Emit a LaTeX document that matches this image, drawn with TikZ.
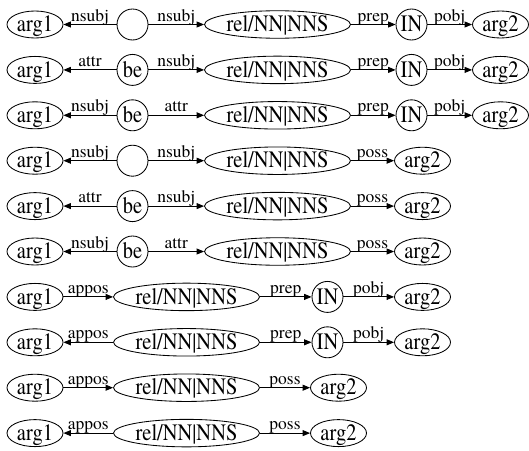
\documentclass[tikz,border=0pt]{standalone}
\usepackage{fontspec}
\setmainfont{texgyretermes-regular.otf}
\newfontfamily\tnr{texgyretermes-regular.otf}
\newfontfamily\tnrc{texgyretermes-regular.otf}[FakeStretch=0.87]
\usetikzlibrary{shapes.geometric,arrows.meta}
\newcommand\nodefnt{\tnrc\fontsize{23.5}{23.5}\selectfont}
\newcommand\lblfnt{\tnr\fontsize{17.5}{17.5}\selectfont}
\newcommand\nt[1]{\makebox[0pt]{\raisebox{-0.31em}[0pt][0pt]{#1}}}
\tikzset{
  basenode/.style={draw, line width=0.85pt, inner sep=0pt, font=\nodefnt},
  argnode/.style={basenode, ellipse, minimum width=56pt, minimum height=27pt},
  relnode/.style={basenode, ellipse, minimum width=146pt, minimum height=27.5pt},
  cnode/.style={basenode, circle, minimum size=31pt},
  edg/.style={line width=0.9pt, -{Triangle[length=7.5pt,width=6pt]}},
  lbl/.style={anchor=base, yshift=3.5pt, inner sep=0pt, font=\lblfnt},
}
\begin{document}
\begin{tikzpicture}[x=1pt,y=-1pt]
\useasboundingbox (0,0) rectangle (529,450);
% Row 1
\node[argnode] (a1) at (35,24.5) {\nt{arg1}};
\node[cnode] (m1) at (132.5,24.5) {};
\node[relnode] (r1) at (277.5,24.5) {\nt{rel/NN|NNS}};
\node[cnode] (i1) at (411.5,24.5) {\nt{IN}};
\node[argnode] (z1) at (500.5,24.5) {\nt{arg2}};
\draw[edg] (m1) -- node[lbl]{nsubj} (a1);
\draw[edg] (m1) -- node[lbl]{nsubj} (r1);
\draw[edg] (r1) -- node[lbl]{prep} (i1);
\draw[edg] (i1) -- node[lbl]{pobj} (z1);
% Row 2
\node[argnode] (a2) at (35,69.9) {\nt{arg1}};
\node[cnode] (m2) at (132.5,69.9) {\nt{be}};
\node[relnode] (r2) at (277.5,69.9) {\nt{rel/NN|NNS}};
\node[cnode] (i2) at (411.5,69.9) {\nt{IN}};
\node[argnode] (z2) at (500.5,69.9) {\nt{arg2}};
\draw[edg] (m2) -- node[lbl]{attr} (a2);
\draw[edg] (m2) -- node[lbl]{nsubj} (r2);
\draw[edg] (r2) -- node[lbl]{prep} (i2);
\draw[edg] (i2) -- node[lbl]{pobj} (z2);
% Row 3
\node[argnode] (a3) at (35,115.3) {\nt{arg1}};
\node[cnode] (m3) at (132.5,115.3) {\nt{be}};
\node[relnode] (r3) at (277.5,115.3) {\nt{rel/NN|NNS}};
\node[cnode] (i3) at (411.5,115.3) {\nt{IN}};
\node[argnode] (z3) at (500.5,115.3) {\nt{arg2}};
\draw[edg] (m3) -- node[lbl]{nsubj} (a3);
\draw[edg] (m3) -- node[lbl]{attr} (r3);
\draw[edg] (r3) -- node[lbl]{prep} (i3);
\draw[edg] (i3) -- node[lbl]{pobj} (z3);
% Row 4
\node[argnode] (a4) at (35,160.7) {\nt{arg1}};
\node[cnode] (m4) at (132.5,160.7) {};
\node[relnode] (r4) at (277.5,160.7) {\nt{rel/NN|NNS}};
\node[argnode] (z4) at (422.5,160.7) {\nt{arg2}};
\draw[edg] (m4) -- node[lbl]{nsubj} (a4);
\draw[edg] (m4) -- node[lbl]{nsubj} (r4);
\draw[edg] (r4) -- node[lbl]{poss} (z4);
% Row 5
\node[argnode] (a5) at (35,206.1) {\nt{arg1}};
\node[cnode] (m5) at (132.5,206.1) {\nt{be}};
\node[relnode] (r5) at (277.5,206.1) {\nt{rel/NN|NNS}};
\node[argnode] (z5) at (422.5,206.1) {\nt{arg2}};
\draw[edg] (m5) -- node[lbl]{attr} (a5);
\draw[edg] (m5) -- node[lbl]{nsubj} (r5);
\draw[edg] (r5) -- node[lbl]{poss} (z5);
% Row 6
\node[argnode] (a6) at (35,251.5) {\nt{arg1}};
\node[cnode] (m6) at (132.5,251.5) {\nt{be}};
\node[relnode] (r6) at (277.5,251.5) {\nt{rel/NN|NNS}};
\node[argnode] (z6) at (422.5,251.5) {\nt{arg2}};
\draw[edg] (m6) -- node[lbl]{nsubj} (a6);
\draw[edg] (m6) -- node[lbl]{attr} (r6);
\draw[edg] (r6) -- node[lbl]{poss} (z6);
% Row 7
\node[argnode] (a7) at (35,296.9) {\nt{arg1}};
\node[relnode] (r7) at (186.5,296.9) {\nt{rel/NN|NNS}};
\node[cnode] (i7) at (327.5,296.9) {\nt{IN}};
\node[argnode] (z7) at (422.5,296.9) {\nt{arg2}};
\draw[edg] (a7) -- node[lbl]{appos} (r7);
\draw[edg] (r7) -- node[lbl]{prep} (i7);
\draw[edg] (i7) -- node[lbl]{pobj} (z7);
% Row 8
\node[argnode] (a8) at (35,342.3) {\nt{arg1}};
\node[relnode] (r8) at (186.5,342.3) {\nt{rel/NN|NNS}};
\node[cnode] (i8) at (327.5,342.3) {\nt{IN}};
\node[argnode] (z8) at (422.5,342.3) {\nt{arg2}};
\draw[edg] (r8) -- node[lbl]{appos} (a8);
\draw[edg] (r8) -- node[lbl]{prep} (i8);
\draw[edg] (i8) -- node[lbl]{pobj} (z8);
% Row 9
\node[argnode] (a9) at (35,387.7) {\nt{arg1}};
\node[relnode] (r9) at (186.5,387.7) {\nt{rel/NN|NNS}};
\node[argnode] (z9) at (338.5,387.7) {\nt{arg2}};
\draw[edg] (a9) -- node[lbl]{appos} (r9);
\draw[edg] (r9) -- node[lbl]{poss} (z9);
% Row 10
\node[argnode] (a10) at (35,433.1) {\nt{arg1}};
\node[relnode] (r10) at (186.5,433.1) {\nt{rel/NN|NNS}};
\node[argnode] (z10) at (338.5,433.1) {\nt{arg2}};
\draw[edg] (r10) -- node[lbl]{appos} (a10);
\draw[edg] (r10) -- node[lbl]{poss} (z10);
\end{tikzpicture}
\end{document}
